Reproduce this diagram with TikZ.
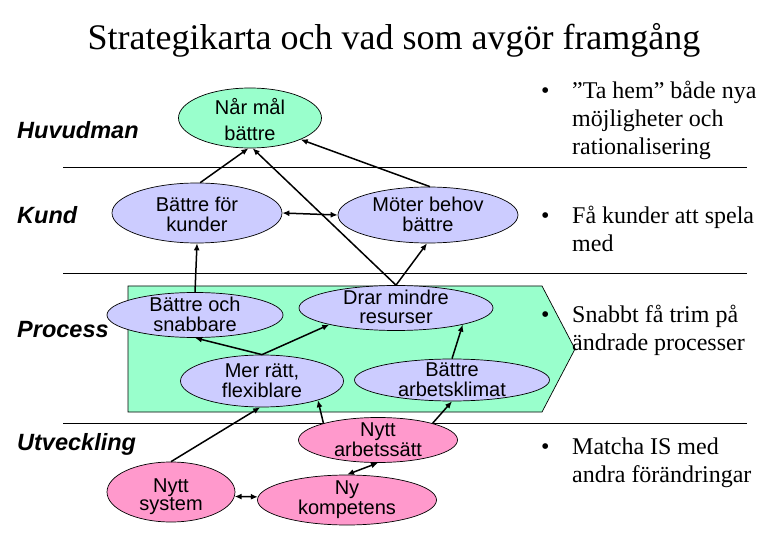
\documentclass[tikz,border=0pt]{standalone}
\usepackage{fontspec}
\setmainfont{Liberation Serif}
\newfontfamily\arial{Liberation Sans}
\usepackage{xcolor}
\usetikzlibrary{shapes.geometric,arrows.meta}
\definecolor{lila}{RGB}{204,204,255}
\definecolor{mint}{RGB}{153,255,204}
\definecolor{rosa}{RGB}{255,153,204}
\newcommand{\etxt}[2][3.5pt]{\smash{\raisebox{#1}{\begin{tabular}[t]{@{}c@{}}#2\end{tabular}}}}
\newcommand{\punkttext}[1]{\begin{tabular}[t]{@{}p{31pt}@{}l@{}}\textbullet & #1\end{tabular}}
\tikzset{
  mal/.style={ellipse,draw=black,line width=0.7pt,inner sep=0pt,font=\arial\fontsize{20}{17}\selectfont},
  huvud/.style={mal,fill=mint},
  kund/.style={mal,fill=lila},
  utv/.style={mal,fill=rosa},
  pil/.style={-{Latex[length=7pt,width=6pt]},line width=1.5pt},
  dubbelpil/.style={{Latex[length=7pt,width=6pt]}-{Latex[length=7pt,width=6pt]},line width=1.5pt},
  perspektiv/.style={font=\arial\bfseries\itshape\fontsize{23.5}{26}\selectfont,anchor=west,inner sep=0pt},
  punkt/.style={font=\fontsize{24}{28}\selectfont,anchor=base west,inner sep=0pt},
  grans/.style={line width=0.8pt}
}

\begin{document}
\begin{tikzpicture}[x=1pt,y=-1pt]
\useasboundingbox (0,0) rectangle (780,540);
% rubrik
\node (titel) at (394,40) {\fontsize{36}{40}\selectfont Strategikarta och vad som avgör framgång};
% perspektiv och gränser
\node[perspektiv] (huvudman) at (17,130) {Huvudman};
\node[perspektiv] (kund) at (17,215) {Kund};
\node[perspektiv] (process) at (17,330) {Process};
\node[perspektiv] (utveckling) at (17,444) {Utveckling};
\draw[grans] (63,167) -- (747,167);
\draw[grans] (63,273) -- (747,273);
\draw[grans] (63,423) -- (747,423);
% processpil
\draw[fill=mint,line width=0.7pt] (128,286) -- (542,286) -- (575,349) -- (542,412) -- (128,412) -- cycle;
% mål
\node[huvud,minimum width=143pt,minimum height=60pt] (nar) at (250,118) {\etxt[3pt]{Når mål\\[6pt]bättre}};
\node[kund,minimum width=170pt,minimum height=60pt] (kunder) at (197,213) {\etxt[1.5pt]{Bättre för\\kunder}};
\node[kund,minimum width=180pt,minimum height=56pt] (moter) at (428,215) {\etxt{Möter behov\\bättre}};
\node[kund,minimum width=176pt,minimum height=45pt] (snabb) at (195,315) {\etxt{Bättre och\\snabbare}};
\node[kund,minimum width=194pt,minimum height=45pt] (drar) at (396,308) {\etxt[3.5pt]{Drar mindre\\[2pt]resurser}};
\node[kund,minimum width=163pt,minimum height=52pt] (merratt) at (262,381) {\etxt{Mer rätt,\\flexiblare}};
\node[kund,minimum width=195pt,minimum height=42pt] (klimat) at (452,380) {\etxt{Bättre\\arbetsklimat}};
\node[utv,minimum width=159pt,minimum height=45pt] (arbsatt) at (378,440) {\etxt{Nytt\\arbetssätt}};
\node[utv,minimum width=128pt,minimum height=60pt] (system) at (171,492) {\etxt[-0.5pt]{Nytt\\system}};
\node[utv,minimum width=179pt,minimum height=50pt] (kompet) at (347,500) {\etxt[5.5pt]{Ny\\kompetens}};
% samband
\draw[pil] (kunder.84) -- (nar.-93);
\draw[pil] (drar.north) -- (nar.-85);
\draw[pil] (drar.north) -- (moter.-92);
\draw[pil] (moter.86) -- (nar.-23);
\draw[dubbelpil] (kunder.east) -- (moter.west);
\draw[pil] (snabb.north) -- (kunder.south);
\draw[pil] (merratt.north) -- (snabb.south);
\draw[pil] (merratt.north) -- (drar.194);
\draw[pil] (klimat.north) -- (drar.-14);
\draw[pil] (system.north) -- (merratt.-94);
\draw[pil] (arbsatt.163) -- (merratt.-19);
\draw[pil] (arbsatt.17) -- (klimat.south);
\draw[dubbelpil] (kompet.north) -- (arbsatt.south);
\draw[dubbelpil] (system.-4) -- (kompet.178);
% kommentarer
\node[punkt] (p1) at (541,99) {\punkttext{”Ta hem” både nya\\ & möjligheter och\\ & rationalisering}};
\node[punkt] (p2) at (541,224) {\punkttext{Få kunder att spela\\ & med}};
\node[punkt] (p3) at (541,323) {\punkttext{Snabbt få trim på\\ & ändrade processer}};
\node[punkt] (p4) at (541,454) {\punkttext{Matcha IS med\\ & andra förändringar}};
\end{tikzpicture}
\end{document}
